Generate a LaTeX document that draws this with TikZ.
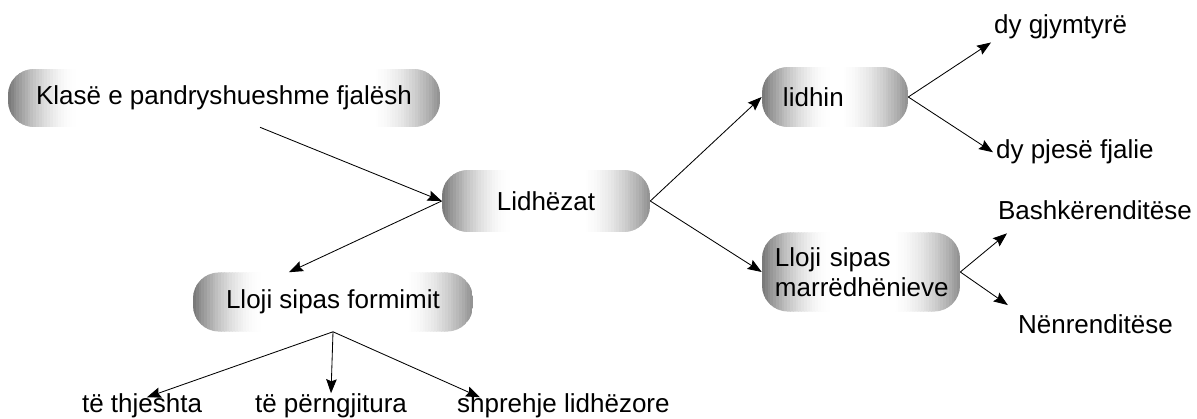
\documentclass[tikz,border=0pt]{standalone}
\usepackage{fontspec}
\setmainfont{Liberation Sans}
\usetikzlibrary{arrows.meta}

\begin{document}
\begin{tikzpicture}[x=0.025cm, y=-0.025cm,
    pill/.style={fill=white, rounded corners=0.65cm, inner sep=0pt, font=\fontsize{18.5}{21.3}\selectfont,
        path picture={
            % grey fading in from both ends
            \foreach \k in {0,...,23} {
                \pgfmathsetmacro{\gl}{52*(1-\k/24)^1.8}
                \pgfmathsetmacro{\gr}{42*(1-\k/24)^1.8}
                \fill[sharp corners, black!\gl] ([xshift=\k*0.07cm]path picture bounding box.south west) rectangle ([xshift=\k*0.07cm+0.09cm]path picture bounding box.north west);
                \fill[sharp corners, black!\gr] ([xshift=-\k*0.07cm]path picture bounding box.south east) rectangle ([xshift=-\k*0.07cm-0.09cm]path picture bounding box.north east);
            }
        }},
    leaf/.style={anchor=base west, inner sep=2pt, font=\fontsize{18.5}{21.3}\selectfont},
    arr/.style={line width=0.6pt, -{Stealth[length=10pt, width=7.5pt, inset=1.5pt]}}]

    \useasboundingbox (0,0) rectangle (1197,419);

    % Boxes
    \node[pill, minimum width=10.8cm, minimum height=1.45cm] (klase) at (224,98) {Klasë e pandryshueshme fjalësh};
    \node[pill, minimum width=5.2cm, minimum height=1.55cm] (lidh) at (546,201) {Lidhëzat};
    \node[pill, minimum height=1.5cm, inner xsep=0.525cm, text width=2.6cm, align=left] (lidhin) at (835,97) {lidhin};
    \node[pill, minimum height=1.975cm, inner xsep=0.325cm, text width=4.3cm, align=left] (marr) at (861,272) {Lloji sipas\\marrëdhënieve};
    \node[pill, minimum width=7cm, minimum height=1.475cm] (formimit) at (333,302) {Lloji sipas formimit};

    % Leaves
    \node[leaf] (gjym) at (991,34) {dy gjymtyrë};
    \node[leaf] (pjese) at (993,159) {dy pjesë fjalie};
    \node[leaf] (bashk) at (995,220) {Bashkërenditëse};
    \node[leaf] (nen) at (1015,333) {Nënrenditëse};
    \node[leaf] (thj) at (79,412) {të thjeshta};
    \node[leaf] (perng) at (252,412) {të përngjitura};
    \node[leaf] (shpr) at (454,412) {shprehje lidhëzore};

    % Connectors
    \draw[arr] ([xshift=0.9cm]klase.south) -- (lidh.west);
    \draw[arr] (lidh.west) -- ([xshift=-1.1cm]formimit.north);
    \draw[arr] (lidh.east) -- (lidhin.west);
    \draw[arr] (lidh.east) -- (marr.west);
    \draw[arr] (lidhin.east) -- (gjym.south west);
    \draw[arr] (lidhin.east) -- (pjese.west);
    \draw[arr] (marr.east) -- ([xshift=0.3cm, yshift=-0.25cm]bashk.south west);
    \draw[arr] (marr.east) -- ([xshift=-0.18cm, yshift=0.15cm]nen.north west);
    \draw[arr] (formimit.south) -- ([xshift=0.12cm, yshift=-0.18cm]thj.north);
    \draw[arr] (formimit.south) -- ([yshift=-0.08cm]perng.north);
    \draw[arr] (formimit.south) -- ([xshift=0.65cm, yshift=-0.18cm]shpr.north west);
\end{tikzpicture}
\end{document}
